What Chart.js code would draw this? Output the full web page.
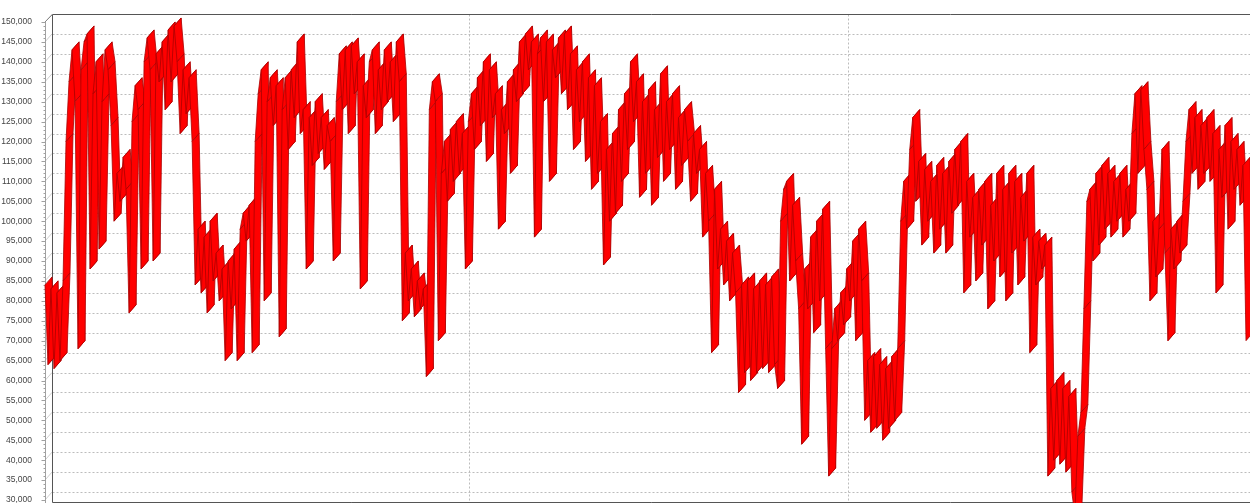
<!DOCTYPE html>
<html>
<head>
<meta charset="utf-8">
<script src="https://cdn.jsdelivr.net/npm/chart.js@4/dist/chart.umd.min.js"></script>
<style>
  html, body { margin: 0; padding: 0; background: #fff; overflow: hidden; }
  #wrap { position: relative; width: 1250px; height: 540px; }
</style>
</head>
<body>
<div id="wrap"><canvas id="chart"></canvas></div>
<script>
// daily values
const values = [
    84000, 64000, 83000, 63000, 82000, 65000, 85000, 120000, 135000, 143000,
    130000, 68000, 138000, 145000, 147000, 88000, 132000, 140000, 93000, 130000,
    143000, 138000, 124000, 100000, 112000, 105000, 116000, 108000, 77000, 125000,
    134000, 128000, 88000, 140000, 146000, 138000, 90000, 142000, 135000, 145000,
    128000, 148000, 135000, 149000, 140000, 122000, 138000, 127000, 136000, 120000,
    84000, 98000, 82000, 96000, 77000, 100000, 85000, 92000, 80000, 88000,
    65000, 90000, 78000, 93000, 65000, 98000, 102000, 95000, 104000, 67000,
    120000, 132000, 138000, 80000, 130000, 136000, 124000, 134000, 71000, 128000,
    136000, 118000, 138000, 126000, 145000, 122000, 128000, 88000, 126000, 114000,
    130000, 117000, 126000, 113000, 124000, 120000, 90000, 130000, 142000, 128000,
    143000, 122000, 144000, 132000, 140000, 83000, 134000, 126000, 140000, 143000,
    122000, 138000, 128000, 143000, 130000, 140000, 125000, 145000, 135000, 75000,
    92000, 80000, 88000, 76000, 85000, 78000, 83000, 61000, 128000, 135000,
    130000, 70000, 112000, 120000, 105000, 123000, 110000, 125000, 112000, 122000,
    88000, 125000, 132000, 118000, 136000, 124000, 140000, 115000, 138000, 126000,
    132000, 98000, 128000, 122000, 135000, 112000, 138000, 130000, 145000, 132000,
    147000, 138000, 145000, 96000, 142000, 146000, 130000, 145000, 110000, 143000,
    136000, 146000, 132000, 147000, 128000, 142000, 118000, 138000, 125000, 140000,
    115000, 136000, 108000, 134000, 112000, 125000, 89000, 118000, 100000, 122000,
    102000, 128000, 110000, 132000, 118000, 140000, 125000, 135000, 106000, 130000,
    112000, 133000, 104000, 128000, 116000, 137000, 110000, 130000, 118000, 132000,
    108000, 126000, 114000, 128000, 120000, 105000, 122000, 112000, 118000, 96000,
    112000, 100000, 67000, 108000, 88000, 98000, 84000, 95000, 80000, 92000,
    82000, 57000, 84000, 62000, 85000, 60000, 83000, 62000, 85000, 63000,
    84000, 62000, 86000, 64000, 58000, 100000, 108000, 110000, 85000, 104000,
    90000, 78000, 44000, 88000, 78000, 96000, 72000, 100000, 80000, 103000,
    68000, 36000, 68000, 78000, 70000, 82000, 74000, 88000, 80000, 95000,
    70000, 98000, 85000, 50000, 65000, 47000, 66000, 48000, 64000, 45000,
    63000, 48000, 66000, 50000, 68000, 100000, 110000, 98000, 118000, 126000,
    105000, 115000, 94000, 113000, 100000, 110000, 92000, 114000, 98000, 112000,
    92000, 115000, 102000, 118000, 104000, 120000, 82000, 110000, 96000, 106000,
    85000, 108000, 94000, 110000, 78000, 104000, 90000, 112000, 86000, 108000,
    80000, 112000, 92000, 110000, 84000, 106000, 95000, 112000, 67000, 96000,
    84000, 95000, 88000, 94000, 36000, 58000, 40000, 60000, 39000, 58000,
    37000, 56000, 32000, 26000, 46000, 52000, 78000, 105000, 108000, 90000,
    112000, 94000, 114000, 98000, 112000, 96000, 110000, 100000, 112000, 96000,
    108000, 100000, 122000, 132000, 112000, 133000, 118000, 108000, 80000, 100000,
    86000, 98000, 118000, 92000, 70000, 98000, 88000, 100000, 92000, 105000,
    120000, 128000, 112000, 126000, 108000, 124000, 112000, 126000, 110000, 122000,
    82000, 118000, 106000, 124000, 98000, 120000, 108000, 118000, 104000, 114000,
    70000
];
const categories = values.map((v, i) => 'Day ' + (i + 1));
const yTicks = [30000, 35000, 40000, 45000, 50000, 55000, 60000, 65000, 70000, 75000,
    80000, 85000, 90000, 95000, 100000, 105000, 110000, 115000, 120000, 125000,
    130000, 135000, 140000, 145000, 150000];
const xGridAt = [139, 265]; // category index of the two vertical grid lines

const depthX = 7, depthY = 8; // 3D offset of the back wall

function line(ctx, x1, y1, x2, y2) {
    ctx.beginPath();
    ctx.moveTo(x1, y1);
    ctx.lineTo(x2, y2);
    ctx.stroke();
}

const ribbon3d = {
    id: 'ribbon3d',
    beforeDatasetsDraw(chart) {
        const {ctx, chartArea: a, scales: {x, y}} = chart;
        const W = chart.width, H = chart.height;
        const bx = Math.round(a.left + depthX) + 0.5;
        const top = Math.round(y.getPixelForValue(150000) - depthY) + 0.5;
        const bottom = Math.round(y.getPixelForValue(27500) - depthY) + 0.5;
        ctx.save();
        ctx.lineWidth = 1;

        // back wall grid
        ctx.strokeStyle = '#bcbcbc';
        ctx.setLineDash([2, 2]);
        yTicks.forEach(v => {
            if (v === 150000) return;
            const py = Math.round(y.getPixelForValue(v) - depthY) + 0.5;
            line(ctx, bx, py, W, py);
        });
        xGridAt.forEach(i => {
            const px = Math.round(x.getPixelForValue(i) + depthX) + 0.5;
            line(ctx, px, top, px, bottom);
        });
        ctx.setLineDash([]);

        // diagonals from front axis to wall
        ctx.strokeStyle = '#cfcfcf';
        yTicks.forEach(v => {
            const py = y.getPixelForValue(v);
            line(ctx, a.left, py, a.left + depthX, py - depthY);
        });

        // front axis with ticks
        ctx.strokeStyle = '#a0a0a0';
        const ax = Math.round(a.left) + 0.5;
        line(ctx, ax, y.getPixelForValue(150000), ax, H);
        for (let k = 0; k < yTicks.length - 1; k++) {
            const step = (yTicks[k + 1] - yTicks[k]) / 5;
            for (let m = 0; m < 5; m++) {
                const py = Math.round(y.getPixelForValue(yTicks[k] + step * m)) + 0.5;
                line(ctx, ax - (m === 0 ? 4 : 2), py, ax, py);
            }
        }
        const ty = Math.round(y.getPixelForValue(150000)) + 0.5;
        line(ctx, ax - 4, ty, ax, ty);

        // wall frame
        ctx.strokeStyle = '#555555';
        line(ctx, bx, top, W, top);
        line(ctx, bx, top, bx, bottom);
        line(ctx, bx, bottom, W, bottom);
        ctx.strokeStyle = '#888888';
        line(ctx, a.left, y.getPixelForValue(150000), bx, top);
        ctx.restore();
    },
    afterDatasetsDraw(chart) {
        const ctx = chart.ctx;
        const pts = chart.getDatasetMeta(0).data;
        ctx.save();
        ctx.lineWidth = 1;
        ctx.lineJoin = 'miter';
        for (let i = 1; i < pts.length; i++) {
            const p0 = pts[i - 1], p1 = pts[i];
            ctx.beginPath();
            ctx.moveTo(p0.x, p0.y);
            ctx.lineTo(p1.x, p1.y);
            ctx.lineTo(p1.x + depthX, p1.y - depthY);
            ctx.lineTo(p0.x + depthX, p0.y - depthY);
            ctx.closePath();
            ctx.fillStyle = '#ff0000';
            ctx.fill();
            ctx.strokeStyle = 'rgba(170,0,0,0.8)';
            ctx.stroke();
        }
        ctx.restore();
    }
};

let ctx = document.getElementById('chart').getContext('2d');
new Chart(ctx, {
    type: 'line',
    data: {
        labels: categories,
        datasets: [
            {
                data: values,
                borderColor: 'rgba(0,0,0,0)',
                borderWidth: 0,
                pointRadius: 0,
                fill: false,
            }
        ],
    },
    options: {
        responsive: true,
        maintainAspectRatio: false,
        animation: false,
        layout: {
            padding: {top: 22, right: 4, bottom: 40, left: 0}
        },
        plugins: {
            legend: {display: false},
            tooltip: {enabled: false}
        },
        scales: {
            x: {display: false},
            y: {
                min: 30000,
                max: 150000,
                afterFit(s) { s.width = 45; },
                afterBuildTicks(s) { s.ticks = yTicks.map(v => ({value: v})); },
                grid: {display: false},
                border: {display: false},
                ticks: {
                    padding: 5,
                    color: '#444444',
                    font: {family: 'Liberation Sans, Arial, sans-serif', size: 8.5},
                    callback: v => v.toLocaleString('en-US')
                }
            }
        }
    },
    plugins: [ribbon3d]
});
</script>
</body>
</html>
